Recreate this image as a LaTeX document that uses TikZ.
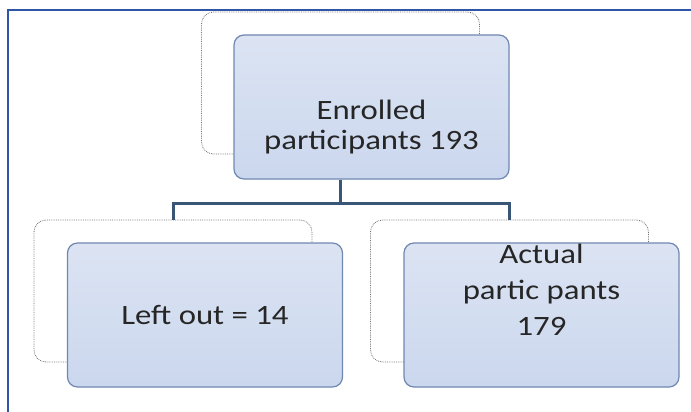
\documentclass[tikz,border=0pt]{standalone}
\usepackage{fontspec}
\setmainfont{Carlito}[FakeStretch=1.17]
\usepackage{xcolor}
\usetikzlibrary{positioning,calc,backgrounds}
\definecolor{boxtop}{HTML}{DCE4F3}
\definecolor{boxbot}{HTML}{CBD7EE}
\definecolor{boxline}{HTML}{7088B0}
\definecolor{linkcol}{HTML}{3A5676}
\definecolor{framecol}{HTML}{2F55A6}
\begin{document}
\begin{tikzpicture}[x=1pt,y=-1pt,
				box/.style={
					draw=boxline, line width=1.2pt, rounded corners=10pt,
					top color=boxtop, bottom color=boxbot,
					minimum width=275pt, minimum height=144pt,
				},
				ghost/.style={
					draw=black!55, densely dotted, line width=0.8pt,
					rounded corners=12pt, fill=white,
					minimum width=278pt, minimum height=142pt,
				},
				txt/.style={
					align=center, text=black!85,
					font=\fontsize{28}{30}\selectfont,
				},
				link/.style={draw=linkcol, line width=3pt},
				]
				\useasboundingbox (0,0) rectangle (691,412);
				\draw[framecol, line width=2pt] (8,412) |- (691,10);
				
				\node[box] (b1) at (371.5,107) {};
				\node[box] (b2) at (205,315) {};
				\node[box] (b3) at (541.5,315) {};
				
				% shadow outlines behind the boxes
				\begin{scope}[on background layer]
				\node[ghost] (s1) at ([shift={(-31,-24)}]b1.center) {};
				\node[ghost] (s2) at ([shift={(-32,-24)}]b2.center) {};
				\node[ghost] (s3) at ([shift={(-32,-24)}]b3.center) {};
				\end{scope}
				
				\node[txt] (t1) at ([shift={(0,20)}]b1.center)
				{Enrolled\\participants 193};
				\node[txt] (t2) at (b2.center) {Left out = 14};
				\node[txt, font=\fontsize{28}{36}\selectfont] (t3) at ([shift={(0,-25)}]b3.center)
				{Actual\\partic pants\\179};
				
				\draw[link] (s1.south |- b1.south) -- ++(0,24) coordinate (j) -| (s2.north);
				\draw[link] (j) -| (s3.north);
			\end{tikzpicture}
\end{document}
